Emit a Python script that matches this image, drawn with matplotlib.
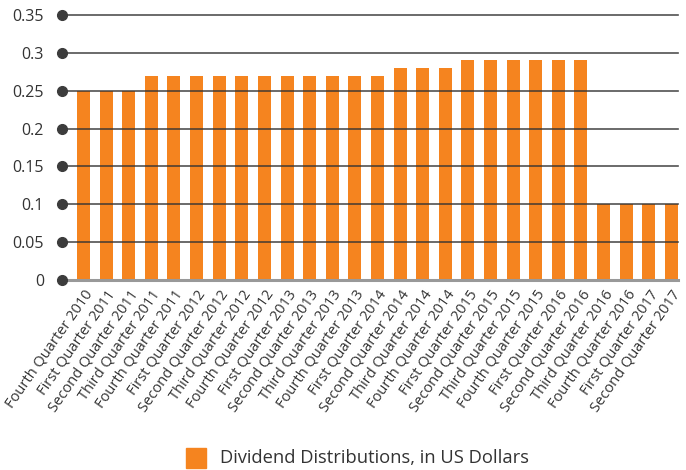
import matplotlib
matplotlib.use("Agg")
import matplotlib.pyplot as plt

categories = [
    "Fourth Quarter 2010", "First Quarter 2011", "Second Quarter 2011", "Third Quarter 2011",
    "Fourth Quarter 2011", "First Quarter 2012", "Second Quarter 2012", "Third Quarter 2012",
    "Fourth Quarter 2012", "First Quarter 2013", "Second Quarter 2013", "Third Quarter 2013",
    "Fourth Quarter 2013", "First Quarter 2014", "Second Quarter 2014", "Third Quarter 2014",
    "Fourth Quarter 2014", "First Quarter 2015", "Second Quarter 2015", "Third Quarter 2015",
    "Fourth Quarter 2015", "First Quarter 2016", "Second Quarter 2016", "Third Quarter 2016",
    "Fourth Quarter 2016", "First Quarter 2017", "Second Quarter 2017",
]
dividends = [0.25, 0.25, 0.25, 0.27, 0.27, 0.27, 0.27, 0.27, 0.27, 0.27, 0.27, 0.27,
             0.27, 0.27, 0.28, 0.28, 0.28, 0.29, 0.29, 0.29, 0.29, 0.29, 0.29, 0.10,
             0.10, 0.10, 0.10]
y_ticks = [0, 0.05, 0.1, 0.15, 0.2, 0.25, 0.3, 0.35]
y_tick_labels = ["0", "0.05", "0.1", "0.15", "0.2", "0.25", "0.3", "0.35"]
series_name = "Dividend Distributions, in US Dollars"

plt.rcParams['font.family'] = ['Open Sans', 'DejaVu Sans']
text_color = '#333333'
bar_color = '#F5841F'

fig = plt.figure(figsize=(6.86, 4.70), dpi=100)
ax = fig.add_axes([62/686, 1-280/470, (678-62)/686, (280-15)/470])

x = list(range(len(categories)))
bars = ax.bar(x, dividends, width=0.575, color=bar_color, zorder=2)

ax.set_ylim(0, 0.35)
xl = (-0.95, len(categories) - 1 + 0.29)
ax.set_xlim(*xl)

for t in y_ticks:
    if t == 0:
        ax.axhline(t, color='#999999', lw=2.2, zorder=3, clip_on=False)
    else:
        ax.axhline(t, color='#333333', lw=1.2, alpha=0.85, zorder=3, clip_on=False)
ax.plot([xl[0]] * len(y_ticks), y_ticks, 'o', color='#3c3c3c', ms=7, clip_on=False, zorder=4)

for s in ax.spines.values():
    s.set_visible(False)

ax.set_yticks(y_ticks)
ax.set_yticklabels(y_tick_labels, fontsize=11.5, color=text_color)
ax.tick_params(axis='y', length=0, pad=13)
ax.set_xticks(x)
ax.set_xticklabels(categories, rotation=55, ha='right', va='top', rotation_mode='anchor',
                   fontsize=10.5, color=text_color)
ax.tick_params(axis='x', length=0, pad=5)

# legend
fig.patches.append(matplotlib.patches.Rectangle((186/686, 1-468/470), 20/686, 20/470,
                                                transform=fig.transFigure, color=bar_color))
fig.text(220/686, 1-458/470, series_name, fontsize=13.2, color=text_color, va='center', ha='left')

fig.savefig("out.png", dpi=100)
